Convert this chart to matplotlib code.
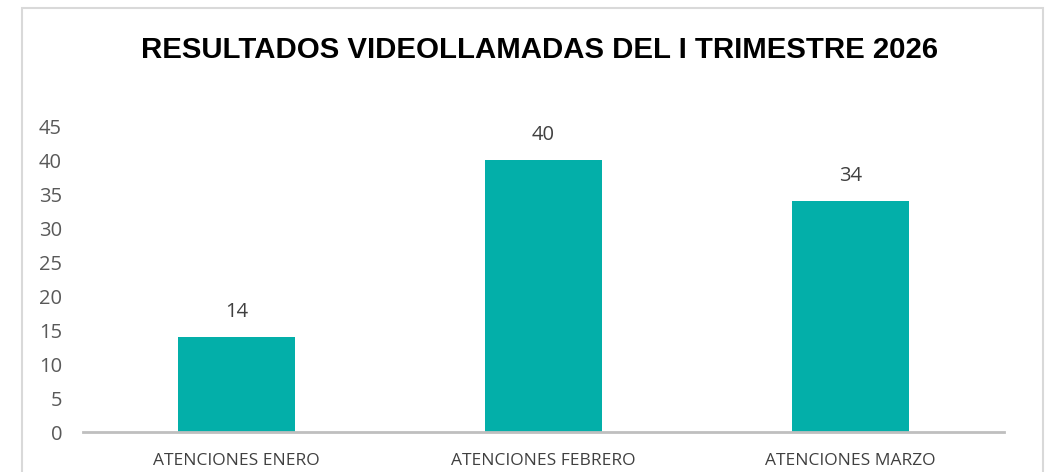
import matplotlib.pyplot as plt
from matplotlib.patches import Rectangle

categorias = ["ATENCIONES ENERO", "ATENCIONES FEBRERO", "ATENCIONES MARZO"]
valores = [14, 40, 34]
yticks = [0, 5, 10, 15, 20, 25, 30, 35, 40, 45]
titulo = "RESULTADOS VIDEOLLAMADAS DEL I TRIMESTRE 2026"

fig = plt.figure(figsize=(10.58, 4.72), dpi=100)
ax = fig.add_axes([0.0784, 0.0847, 0.8706, 0.6483])

# marco exterior del grafico
fig.patches.append(Rectangle((22 / 1058, -0.05), (1043 - 22) / 1058, 1.05 - 8 / 472,
                             transform=fig.transFigure, fill=False,
                             edgecolor="#D9D9D9", linewidth=1.5))

x = list(range(len(categorias)))
barras = ax.bar(x, valores, width=0.38, color="#03AFA9")
for b, v in zip(barras, valores):
    ax.annotate(str(v), (b.get_x() + b.get_width() / 2, v), xytext=(0, 11),
                textcoords="offset points", ha="center", va="bottom",
                fontsize=14.5, color="#404040", family="Open Sans")

ax.set_xlim(-0.5, 2.5)
ax.set_ylim(0, 45)
ax.set_yticks(yticks)
ax.set_xticks(x)
ax.set_xticklabels(categorias, fontsize=12.5, color="#404040", family="Open Sans")
for lab in ax.get_yticklabels():
    lab.set_fontsize(14.5)
    lab.set_color("#595959")
    lab.set_family("Open Sans")
ax.tick_params(axis="both", length=0)
ax.tick_params(axis="y", pad=15)
ax.tick_params(axis="x", pad=15)
for s in ["top", "right", "left"]:
    ax.spines[s].set_visible(False)
ax.spines["bottom"].set_color("#BFBFBF")
ax.spines["bottom"].set_linewidth(2)

fig.text(0.51, 0.895, titulo, ha="center", va="center", fontsize=21.2,
         fontweight="bold", family="Liberation Sans", color="black")

fig.savefig("out.png", dpi=100)
